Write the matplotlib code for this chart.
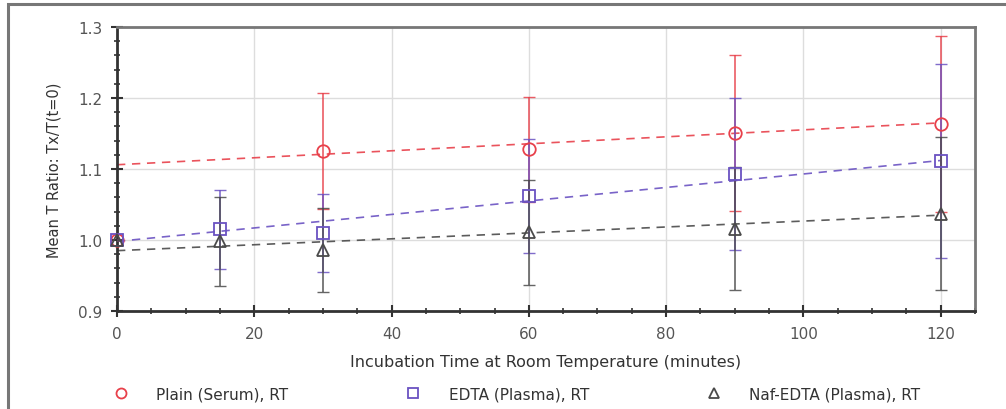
import numpy as np
import matplotlib.pyplot as plt
from matplotlib.patches import Rectangle
from matplotlib.ticker import MultipleLocator

# incubation times (minutes)
x_plain = [0, 30, 60, 90, 120]
x_edta = [0, 15, 30, 60, 90, 120]
x_naf = [0, 15, 30, 60, 90, 120]

# mean ratio Tx/T(t=0) and error (+/-)
y_plain = [1.000, 1.125, 1.128, 1.151, 1.164]
e_plain = [0.0, 0.082, 0.074, 0.110, 0.124]
y_edta = [1.000, 1.015, 1.010, 1.062, 1.093, 1.111]
e_edta = [0.0, 0.056, 0.055, 0.080, 0.107, 0.137]
y_naf = [1.000, 0.998, 0.986, 1.011, 1.016, 1.037]
e_naf = [0.0, 0.063, 0.059, 0.074, 0.087, 0.108]

# dashed trend lines: value at t=0 and t=120
trend_plain = [1.106, 1.165]
trend_edta = [0.998, 1.112]
trend_naf = [0.985, 1.035]
trend_x = [0, 120]

labels = ['Plain (Serum), RT', 'EDTA (Plasma), RT', 'Naf-EDTA (Plasma), RT']
colors = ['#e8404a', '#6a52c2', '#4a4a4a']
markers = ['o', 's', '^']

plt.rcParams['font.family'] = 'DejaVu Sans'

fig = plt.figure(figsize=(10.06, 4.10), dpi=100)
ax = fig.add_axes([117/1006, 1-312/410, (975-117)/1006, (312-28)/410])

# outer frame around the figure
fig.patches.append(Rectangle((8/1006, -0.05), 1.1, 1-5/410+0.05, transform=fig.transFigure,
                             fill=False, edgecolor='#777777', linewidth=2.2))

series = [(x_plain, y_plain, e_plain, trend_plain),
          (x_edta, y_edta, e_edta, trend_edta),
          (x_naf, y_naf, e_naf, trend_naf)]

handles = []
for (xs, ys, es, tr), c, m, lab in zip(series, colors, markers, labels):
    ax.plot(trend_x, tr, linestyle=(0, (5, 4)), color=c, linewidth=1.2, alpha=0.9, zorder=2)
    ax.errorbar(xs, ys, yerr=es, fmt='none', ecolor=c, elinewidth=1.2, capsize=4,
                capthick=1.0, alpha=0.85, zorder=3)
    h, = ax.plot(xs, ys, linestyle='none', marker=m, markersize=9, markerfacecolor='none',
                 markeredgecolor=c, markeredgewidth=1.3, zorder=4, label=lab, clip_on=False)
    handles.append(h)

ax.set_xlim(0, 125)
ax.set_ylim(0.9, 1.3)
ax.xaxis.set_major_locator(MultipleLocator(20))
ax.xaxis.set_minor_locator(MultipleLocator(5))
ax.yaxis.set_major_locator(MultipleLocator(0.1))
ax.yaxis.set_minor_locator(MultipleLocator(0.02))
ax.yaxis.set_major_formatter(plt.FuncFormatter(lambda v, p: '%.1f' % v))

ax.grid(True, which='major', color='#dddddd', linewidth=1.0)
ax.set_axisbelow(True)

for side in ['left', 'bottom']:
    ax.spines[side].set_color('#333333')
    ax.spines[side].set_linewidth(2.0)
for side in ['top', 'right']:
    ax.spines[side].set_color('#777777')
    ax.spines[side].set_linewidth(2.0)

ax.tick_params(which='major', direction='inout', length=9, width=1.5, color='#333333',
               labelsize=11, labelcolor='#555555', pad=6)
ax.tick_params(which='minor', direction='inout', length=5, width=1.2, color='#333333')
ax.tick_params(top=False, right=False, which='both')

ax.set_xlabel('Incubation Time at Room Temperature (minutes)', fontsize=11.5,
              color='#333333', labelpad=10)
ax.set_ylabel('Mean T Ratio: Tx/T(t=0)', fontsize=10.5, color='#333333', labelpad=12)

fig.legend(handles=handles, labels=labels, loc='center', bbox_to_anchor=(0.51, 1-395/410),
           ncol=3, frameon=False, fontsize=11, columnspacing=7.2, handletextpad=1.3,
           labelcolor='#333333', markerscale=0.8)

fig.savefig('out.png', dpi=100)
